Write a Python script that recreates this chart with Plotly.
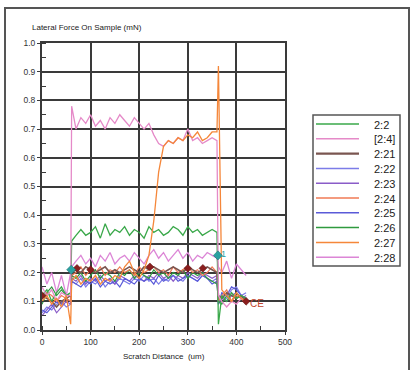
import plotly.graph_objects as go

x_um = [0, 10, 20, 30, 40, 50, 59, 61, 70, 80, 90, 100, 110, 120, 130, 140, 150, 160, 170, 180,
        190, 200, 210, 220, 230, 240, 250, 260, 270, 280, 290, 300, 310, 320, 330, 340, 350, 360,
        363, 370, 380, 390, 400, 410, 420]

names = ["2:2", "[2:4]", "2:21", "2:22", "2:23", "2:24", "2:25", "2:26", "2:27", "2:28"]
colors = ["#3aa84a", "#e58ac8", "#7a5650", "#7c7ce8", "#8a5cc8", "#f07a55", "#5a5ad8", "#2f9a3f", "#f5873a", "#dc86d6"]
widths = [1.3, 1.3, 1.6, 1.2, 1.2, 1.2, 1.2, 1.2, 1.3, 1.3]

s_2_2 = [0.12, 0.14, 0.10, 0.13, 0.15, 0.12, 0.13, 0.31,
         0.33, 0.35, 0.33, 0.34, 0.36, 0.32, 0.37, 0.33, 0.35, 0.34,
         0.36, 0.33, 0.35, 0.34, 0.32, 0.36, 0.34, 0.35, 0.33, 0.34,
         0.36, 0.35, 0.33, 0.36, 0.34, 0.35, 0.33, 0.34, 0.35, 0.34,
         0.02, 0.12, 0.10, 0.13, 0.11, 0.12, 0.11]
s_2_4 = [0.15, 0.12, 0.14, 0.10, 0.13, 0.12, 0.12, 0.78,
         0.70, 0.74, 0.72, 0.75, 0.71, 0.73, 0.70, 0.74, 0.72, 0.75,
         0.73, 0.71, 0.74, 0.72, 0.70, 0.72, 0.68, 0.65, 0.64, 0.66,
         0.65, 0.67, 0.66, 0.70, 0.66, 0.67, 0.65, 0.66, 0.67, 0.66,
         0.12, 0.10, 0.08, 0.10, 0.09, 0.11, 0.10]
s_2_21 = [0.12, 0.11, 0.10, 0.08, 0.10, 0.11, 0.12, 0.20,
          0.21, 0.20, 0.22, 0.21, 0.20, 0.21, 0.22, 0.20, 0.21, 0.20,
          0.21, 0.22, 0.21, 0.20, 0.22, 0.21, 0.22, 0.21, 0.20, 0.21,
          0.22, 0.21, 0.20, 0.22, 0.21, 0.20, 0.21, 0.22, 0.21, 0.20,
          0.12, 0.11, 0.13, 0.12, 0.11, 0.12, 0.10]
s_2_22 = [0.06, 0.08, 0.07, 0.09, 0.10, 0.08, 0.09, 0.17,
          0.16, 0.18, 0.15, 0.17, 0.16, 0.18, 0.15, 0.17, 0.16, 0.18,
          0.17, 0.16, 0.18, 0.17, 0.19, 0.17, 0.18, 0.16, 0.18, 0.17,
          0.19, 0.18, 0.17, 0.19, 0.18, 0.17, 0.19, 0.18, 0.17, 0.18,
          0.10, 0.12, 0.11, 0.14, 0.15, 0.12, 0.13]
s_2_23 = [0.05, 0.07, 0.09, 0.06, 0.08, 0.10, 0.09, 0.18,
          0.17, 0.19, 0.16, 0.18, 0.17, 0.19, 0.17, 0.18, 0.16, 0.19,
          0.18, 0.17, 0.19, 0.18, 0.17, 0.19, 0.18, 0.20, 0.18, 0.19,
          0.17, 0.19, 0.18, 0.20, 0.19, 0.18, 0.20, 0.19, 0.18, 0.19,
          0.09, 0.11, 0.10, 0.12, 0.13, 0.11, 0.12]
s_2_24 = [0.11, 0.13, 0.12, 0.10, 0.12, 0.11, 0.10, 0.19,
          0.20, 0.22, 0.19, 0.21, 0.20, 0.22, 0.19, 0.21, 0.20, 0.22,
          0.20, 0.21, 0.19, 0.22, 0.20, 0.21, 0.22, 0.20, 0.21, 0.19,
          0.22, 0.20, 0.21, 0.22, 0.20, 0.21, 0.19, 0.20, 0.22, 0.20,
          0.10, 0.12, 0.14, 0.10, 0.12, 0.11, 0.09]
s_2_25 = [0.07, 0.06, 0.08, 0.10, 0.09, 0.11, 0.10, 0.17,
          0.16, 0.15, 0.17, 0.16, 0.18, 0.15, 0.17, 0.16, 0.17, 0.15,
          0.18, 0.17, 0.16, 0.18, 0.17, 0.18, 0.16, 0.19, 0.17, 0.18,
          0.19, 0.17, 0.18, 0.19, 0.18, 0.17, 0.19, 0.18, 0.16, 0.17,
          0.09, 0.13, 0.12, 0.15, 0.14, 0.12, 0.11]
s_2_26 = [0.09, 0.13, 0.15, 0.12, 0.14, 0.12, 0.13, 0.19,
          0.18, 0.20, 0.17, 0.19, 0.21, 0.18, 0.20, 0.19, 0.17, 0.20,
          0.19, 0.21, 0.18, 0.20, 0.19, 0.18, 0.21, 0.19, 0.20, 0.18,
          0.20, 0.19, 0.21, 0.18, 0.20, 0.19, 0.20, 0.18, 0.17, 0.16,
          0.10, 0.09, 0.12, 0.10, 0.13, 0.11, 0.10]
s_2_27 = [0.10, 0.12, 0.09, 0.11, 0.08, 0.12, 0.02, 0.17,
          0.19, 0.16, 0.18, 0.17, 0.19, 0.16, 0.18, 0.17, 0.19, 0.18,
          0.22, 0.24, 0.20, 0.18, 0.21, 0.26, 0.38, 0.55, 0.64, 0.66,
          0.65, 0.67, 0.66, 0.68, 0.67, 0.69, 0.66, 0.67, 0.69, 0.69,
          0.92, 0.14, 0.12, 0.10, 0.13, 0.11, 0.10]
s_2_28 = [0.22, 0.16, 0.20, 0.13, 0.19, 0.12, 0.20, 0.22,
          0.24, 0.26, 0.23, 0.25, 0.22, 0.26, 0.24, 0.27, 0.23, 0.25,
          0.26, 0.24, 0.27, 0.25, 0.23, 0.26, 0.28, 0.25, 0.27, 0.24,
          0.26, 0.28, 0.25, 0.27, 0.24, 0.26, 0.25, 0.27, 0.26, 0.25,
          0.22, 0.20, 0.24, 0.18, 0.23, 0.21, 0.19]

series = [s_2_2, s_2_4, s_2_21, s_2_22, s_2_23, s_2_24, s_2_25, s_2_26, s_2_27, s_2_28]

# event markers
red_mark_x = [0, 72, 100, 222, 300, 331, 420]
red_mark_y = [0.12, 0.215, 0.21, 0.22, 0.215, 0.215, 0.10]
teal_mark_x = [60, 362]
teal_mark_y = [0.21, 0.26]

# pixel -> paper helpers (plot area: x 42..285, y 43..330)
def px(xp):
    return (xp - 42) / 243

def py(yp):
    return (330 - yp) / 287

fig = go.Figure()
draw_order = [3, 4, 6, 7, 5, 2, 9, 0, 1, 8]
for i in draw_order:
    fig.add_trace(go.Scatter(x=x_um, y=series[i], mode="lines", name=names[i],
                             line=dict(color=colors[i], width=widths[i]), showlegend=False))

fig.add_trace(go.Scatter(x=red_mark_x, y=red_mark_y, mode="markers", showlegend=False,
                         marker=dict(symbol="diamond", size=6, color="#8a1e1e",
                                     line=dict(color="#5a1010", width=0.5))))
fig.add_trace(go.Scatter(x=teal_mark_x, y=teal_mark_y, mode="markers", showlegend=False,
                         marker=dict(symbol="diamond", size=7, color="#2aa0a0",
                                     line=dict(color="#176a6a", width=0.5))))

fig.add_annotation(x=423, y=0.092, text="CE", showarrow=False, xanchor="left",
                   font=dict(family="Liberation Sans", size=10, color="#c0442a"))
fig.add_annotation(x=365, y=0.265, text="1", showarrow=False, xanchor="left",
                   font=dict(family="Liberation Sans", size=9, color="#2aa0a0"))

fig.add_annotation(xref="paper", yref="paper", x=px(30), y=py(27), xanchor="left", yanchor="middle",
                   text="Lateral Force On Sample (mN)", showarrow=False,
                   font=dict(family="Liberation Sans", size=8, color="#222"))
fig.add_annotation(xref="paper", yref="paper", x=0.5, y=py(357), xanchor="center", yanchor="middle",
                   text="Scratch Distance  (um)", showarrow=False,
                   font=dict(family="Liberation Sans", size=8, color="#222"))

# outer frame
fig.add_shape(type="rect", xref="paper", yref="paper",
              x0=px(5), x1=px(409), y0=py(372), y1=py(8),
              line=dict(color="#555", width=2), layer="below")

# legend box (drawn by hand to match compact entry spacing)
fig.add_shape(type="rect", xref="paper", yref="paper",
              x0=px(313), x1=px(400), y0=py(266), y1=py(115),
              line=dict(color="#555", width=1.5), fillcolor="white", layer="above")
for k, (nm, col) in enumerate(zip(names, colors)):
    yc = 124 + k * 14.8
    fig.add_shape(type="line", xref="paper", yref="paper",
                  x0=px(316), x1=px(359), y0=py(yc), y1=py(yc),
                  line=dict(color=col, width=2.2 if k == 2 else 1.5), layer="above")
    fig.add_annotation(xref="paper", yref="paper", x=px(372), y=py(yc + 0.5),
                       xanchor="left", yanchor="middle", text=nm, showarrow=False,
                       font=dict(family="Liberation Sans", size=11, color="#222"))

axis_common = dict(showgrid=True, gridcolor="#3a3a3a", gridwidth=2, showline=True,
                   linecolor="#3a3a3a", linewidth=2, mirror=True, zeroline=False,
                   ticks="outside", ticklen=3, tickcolor="#3a3a3a",
                   tickfont=dict(family="Liberation Sans", size=8.5, color="#333"))

fig.update_xaxes(range=[0, 500], dtick=100, **axis_common,
                 minor=dict(ticks="inside", dtick=50, ticklen=4, tickcolor="#3a3a3a", showgrid=False))
fig.update_yaxes(range=[0, 1.0], dtick=0.1, tickformat=".1f", **axis_common,
                 minor=dict(ticks="inside", dtick=0.05, ticklen=4, tickcolor="#3a3a3a", showgrid=False))

fig.update_layout(
    width=411, height=370,
    margin=dict(l=42, r=126, t=43, b=40),
    paper_bgcolor="white", plot_bgcolor="white",
    showlegend=False,
)

fig.write_html("out.html")
